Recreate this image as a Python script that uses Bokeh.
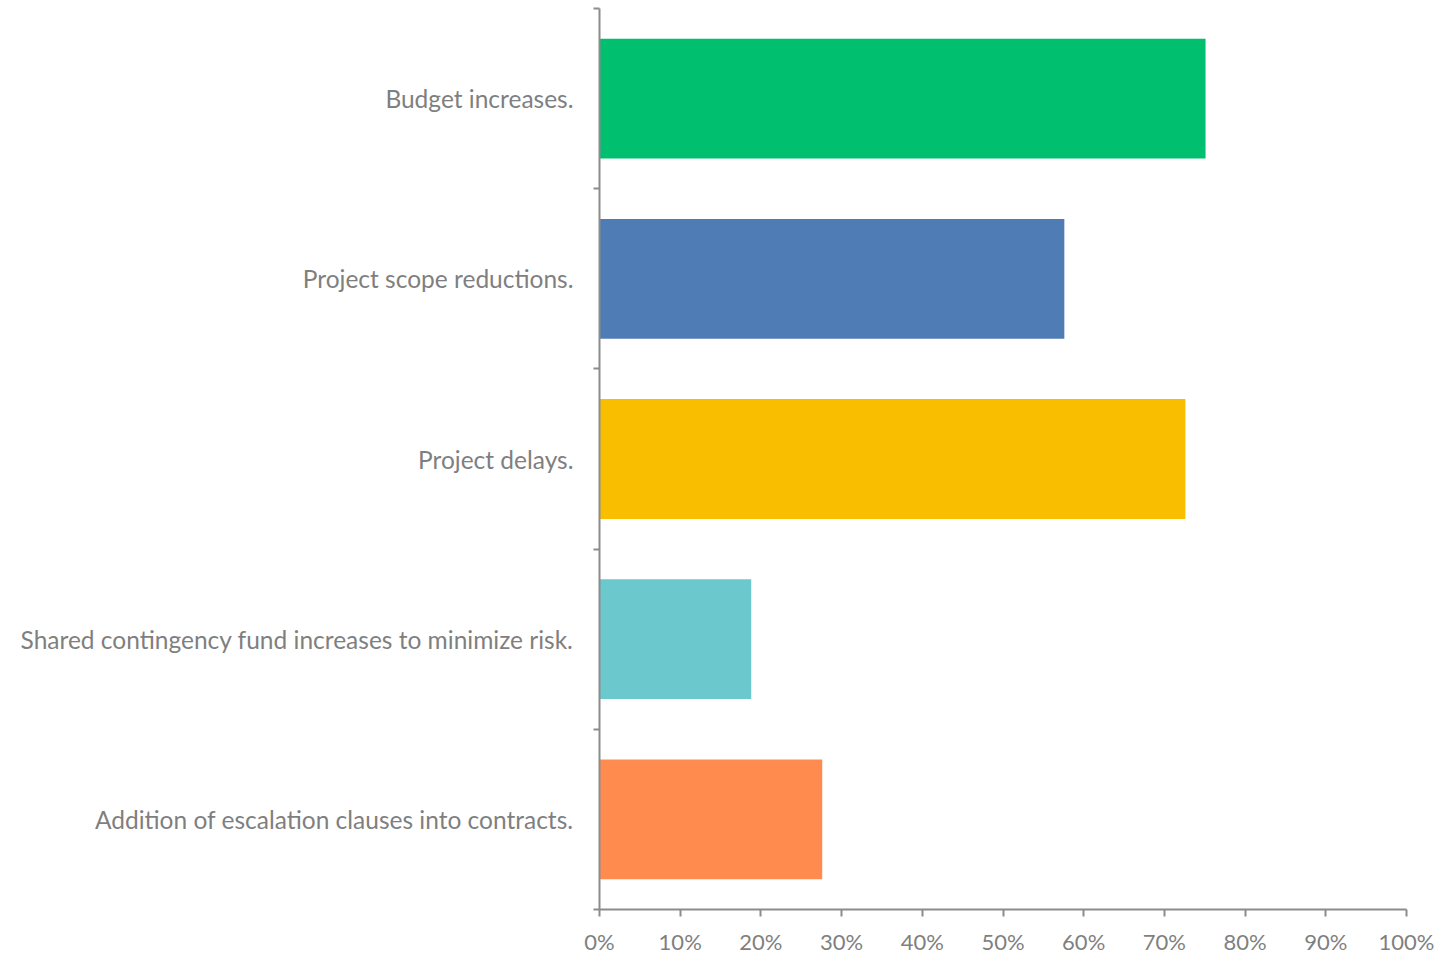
from bokeh.plotting import figure
from bokeh.models import Range1d, FixedTicker, ColumnDataSource, NumeralTickFormatter
from bokeh.embed import file_html
from bokeh.resources import INLINE

categories = [
    "Budget increases.",
    "Project scope reductions.",
    "Project delays.",
    "Shared contingency fund increases to minimize risk.",
    "Addition of escalation clauses into contracts.",
]
values = [0.751, 0.576, 0.726, 0.188, 0.276]
colors = ["#00BF6F", "#507CB6", "#F9BE00", "#6BC8CD", "#FF8B4F"]
x_ticks = [i / 10 for i in range(11)]

n = len(categories)
ypos = [n - 0.5 - i for i in range(n)]
src = ColumnDataSource(dict(y=ypos, right=values, color=colors, label=categories))

p = figure(width=1440, height=957, output_backend="svg", toolbar_location=None,
           x_range=Range1d(0, 1), y_range=Range1d(0, n),
           min_border_left=599, min_border_right=34, min_border_top=8, min_border_bottom=45)
p.outline_line_color = None
p.grid.grid_line_color = None
p.background_fill_color = "white"
p.border_fill_color = "white"

p.hbar(y="y", left=0, right="right", height=0.665, color="color", source=src, line_color=None)

axis_color = "#8c8c8c"
text_color = "#7f7f7f"
font = "Lato"

xa = p.xaxis[0]
xa.ticker = FixedTicker(ticks=x_ticks)
xa.formatter = NumeralTickFormatter(format="0%")
xa.axis_line_color = axis_color
xa.axis_line_width = 2
xa.major_tick_line_color = axis_color
xa.major_tick_line_width = 2
xa.major_tick_in = 0
xa.major_tick_out = 7
xa.minor_tick_line_color = None
xa.major_label_text_font = font
xa.major_label_text_font_size = "22px"
xa.major_label_text_color = text_color
xa.major_label_standoff = 11

ya = p.yaxis[0]
ya.ticker = FixedTicker(ticks=ypos, minor_ticks=list(range(n + 1)))
ya.major_label_overrides = {y: c for y, c in zip(ypos, categories)}
ya.axis_line_color = axis_color
ya.axis_line_width = 2
ya.major_tick_line_color = None
ya.major_tick_in = 0
ya.major_tick_out = 0
ya.minor_tick_line_color = axis_color
ya.minor_tick_line_width = 2
ya.minor_tick_in = 0
ya.minor_tick_out = 6
ya.major_label_text_font = font
ya.major_label_text_font_size = "24.5px"
ya.major_label_text_color = text_color
ya.major_label_standoff = 20

open("out.html", "w").write(file_html(p, INLINE))
